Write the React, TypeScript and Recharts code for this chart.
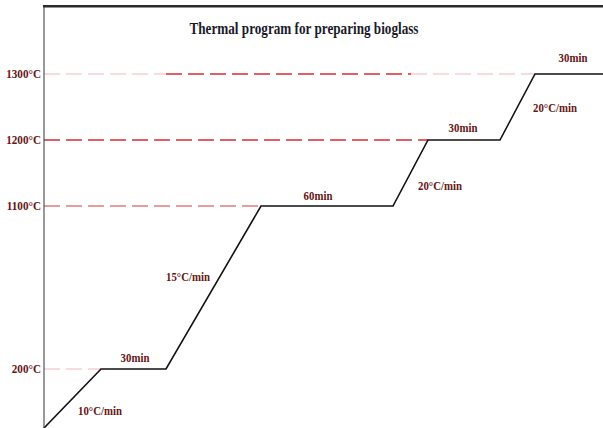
import {
  LineChart,
  Line,
  XAxis,
  YAxis,
  ReferenceLine,
  ReferenceDot
} from "recharts";

// stage corners of the firing schedule (schematic x position, temperature °C)
const stageX = [0, 57, 122, 217, 349, 384, 456, 491, 559];
const stageTemp = [25, 200, 200, 1100, 1100, 1200, 1200, 1300, 1300];

// the temperature axis is broken: breakpoints of the drawing scale
const breakTemps = [25, 200, 1100, 1200, 1300];
const breakLevels = [0, 59, 222, 288, 354];

const tickTemps = [200, 1100, 1200, 1300];

// dashed guide lines: temperature, from x, to x, strong or faint
const guideTemp = [1300, 1300, 1300, 1200, 1100, 200];
const guideFrom = [0, 122, 367, 0, 0, 0];
const guideTo = [122, 367, 491, 384, 217, 57];
const guideKind = ["faint", "strong", "faint", "strong", "medium", "faint"];

// rate / dwell notes
const noteText = [
  "10°C/min",
  "30min",
  "15°C/min",
  "60min",
  "20°C/min",
  "30min",
  "20°C/min",
  "30min"
];
const noteX = [56, 91, 144, 274, 396, 419, 511, 529];
const noteLevel = [17, 70, 151, 232, 242, 300, 320, 370];

const TOP_LEVEL = 422;
const X_MAX = 559;

const GUIDE_COLORS: Record<string, string> = {
  strong: "#d62c33",
  medium: "#e57a7f",
  faint: "#f6cfd1"
};

const LABEL_RED = "#661515";

function toLevel(t: number) {
  for (let i = 1; i < breakTemps.length; i++) {
    if (t <= breakTemps[i]) {
      const f = (t - breakTemps[i - 1]) / (breakTemps[i] - breakTemps[i - 1]);
      return breakLevels[i - 1] + f * (breakLevels[i] - breakLevels[i - 1]);
    }
  }
  return breakLevels[breakLevels.length - 1];
}

function fromLevel(l: number) {
  const i = breakLevels.findIndex((b) => Math.abs(b - l) < 0.01);
  return i >= 0 ? breakTemps[i] : l;
}

const data = stageX.map((x, i) => ({
  x,
  level: toLevel(stageTemp[i])
}));

function TempTick(props: any) {
  const { y, payload } = props;
  return (
    <text
      transform={`translate(41,${y + 4}) scale(0.93,1)`}
      textAnchor="end"
      fontFamily="'Liberation Serif', serif"
      fontWeight="bold"
      fontSize={12}
      fill={LABEL_RED}
    >
      {fromLevel(payload.value)}°C
    </text>
  );
}

function noteLabel(text: string) {
  return (props: any) => {
    const vb = props.viewBox || {};
    return (
      <text
        transform={`translate(${vb.x},${vb.y + 4}) scale(0.9,1)`}
        textAnchor="middle"
        fontFamily="'Liberation Serif', serif"
        fontWeight="bold"
        fontSize={12}
        fill={LABEL_RED}
      >
        {text}
      </text>
    );
  };
}

export default function App() {
  return (
    <div
      style={{
        position: "absolute",
        left: 0,
        top: 0,
        width: 603,
        height: 428,
        background: "#fff"
      }}
    >
      <LineChart
        width={603}
        height={428}
        data={data}
        margin={{ top: 6, right: 0, bottom: 0, left: 0 }}
      >
        <XAxis
          dataKey="x"
          type="number"
          domain={[0, X_MAX]}
          hide
        />
        <YAxis
          type="number"
          domain={[0, TOP_LEVEL]}
          ticks={tickTemps.map(toLevel)}
          tick={<TempTick />}
          tickLine={false}
          width={44}
          stroke="#333"
          allowDataOverflow
        />

        {guideTemp.map((t, i) => (
          <ReferenceLine
            key={"g" + i}
            segment={[
              { x: guideFrom[i], y: toLevel(t) },
              { x: guideTo[i], y: toLevel(t) }
            ]}
            stroke={GUIDE_COLORS[guideKind[i]]}
            strokeWidth={1.5}
            strokeDasharray="16 6"
            ifOverflow="visible"
          />
        ))}

        <Line
          dataKey="level"
          stroke="#111"
          strokeWidth={1.6}
          dot={false}
          activeDot={false}
          isAnimationActive={false}
        />

        {noteText.map((txt, i) => (
          <ReferenceDot
            key={"n" + i}
            x={noteX[i]}
            y={noteLevel[i]}
            r={0}
            fill="none"
            stroke="none"
            ifOverflow="visible"
            label={noteLabel(txt)}
          />
        ))}
      </LineChart>
      <svg
        width={603}
        height={428}
        style={{ position: "absolute", left: 0, top: 0, pointerEvents: "none" }}
      >
        {/* frame along the top of the plot */}
        <rect x={43} y={5} width={560} height={2.5} fill="#2a2a2a" />
        <text
          x={304}
          y={34}
          textAnchor="middle"
          textLength={229}
          lengthAdjust="spacingAndGlyphs"
          fontFamily="'Liberation Serif', serif"
          fontWeight="bold"
          fontSize={16}
          fill="#1a1a2a"
        >
          Thermal program for preparing bioglass
        </text>
      </svg>
    </div>
  );
}
